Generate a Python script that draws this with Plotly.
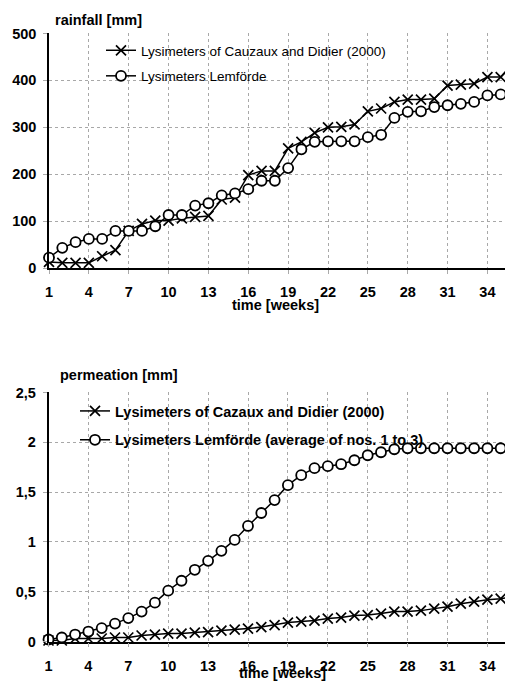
import plotly.graph_objects as go

weeks = list(range(1, 37))
x_tick_vals = [1, 4, 7, 10, 13, 16, 19, 22, 25, 28, 31, 34]

rain_cazaux = [13, 11, 11, 11, 25, 38, 79, 94, 101, 101, 106, 109, 111, 146, 150, 198,
               207, 207, 255, 269, 288, 300, 301, 306, 334, 340, 354, 359, 359, 361,
               389, 391, 393, 407, 407, 439]
rain_lemforde = [22, 43, 55, 62, 62, 79, 79, 79, 89, 113, 113, 133, 138, 155, 159, 168,
                 186, 186, 213, 253, 269, 270, 270, 270, 279, 284, 320, 333, 334, 343,
                 347, 350, 354, 368, 370, 387]

perm_cazaux = [0.01, 0.01, 0.03, 0.03, 0.03, 0.04, 0.04, 0.06, 0.07, 0.08, 0.08, 0.09,
               0.095, 0.11, 0.12, 0.13, 0.145, 0.165, 0.19, 0.20, 0.21, 0.23, 0.24, 0.26,
               0.265, 0.28, 0.30, 0.30, 0.31, 0.33, 0.35, 0.38, 0.40, 0.42, 0.43, 0.45]
perm_lemforde = [0.02, 0.04, 0.07, 0.10, 0.135, 0.18, 0.235, 0.30, 0.39, 0.51, 0.61, 0.72,
                 0.81, 0.91, 1.02, 1.16, 1.29, 1.42, 1.57, 1.67, 1.74, 1.76, 1.78, 1.82,
                 1.87, 1.90, 1.93, 1.94, 1.94, 1.94, 1.94, 1.94, 1.94, 1.94, 1.94, 1.94]

rain_tick_vals = [0, 100, 200, 300, 400, 500]
rain_tick_text = ["0", "100", "200", "300", "400", "500"]
perm_tick_vals = [0, 0.5, 1, 1.5, 2, 2.5]
perm_tick_text = ["0", "0,5", "1", "1,5", "2", "2,5"]

legend_top = ["Lysimeters of Cauzaux and Didier (2000)", "Lysimeters Lemförde"]
legend_bottom = ["Lysimeters of Cazaux and Didier (2000)",
                 "Lysimeters Lemförde (average of nos. 1 to 3)"]

# page body has an 8px margin; lay out in window pixels and convert
OFF = 8
W, H = 513 - OFF, 682 - OFF
FONT = "Liberation Sans, Arial, sans-serif"


def px_x(p):
    return (p - OFF) / W


def px_y(p):
    return (H - (p - OFF)) / H


x_marker = dict(symbol="x-thin", size=10, color="black", line=dict(color="black", width=1.7))
o_marker = dict(symbol="circle", size=10, color="white", line=dict(color="black", width=1.8))
line_style = dict(color="black", width=1.5)

fig = go.Figure()
fig.add_trace(go.Scatter(x=weeks, y=rain_cazaux, mode="lines+markers", name=legend_top[0],
                         marker=x_marker, line=line_style, xaxis="x", yaxis="y",
                         legend="legend", legendgroup="a", cliponaxis=False))
fig.add_trace(go.Scatter(x=weeks, y=rain_lemforde, mode="lines+markers", name=legend_top[1],
                         marker=o_marker, line=line_style, xaxis="x", yaxis="y",
                         legend="legend", legendgroup="b", cliponaxis=False))
fig.add_trace(go.Scatter(x=weeks, y=perm_cazaux, mode="lines+markers", name=legend_bottom[0],
                         marker=x_marker, line=line_style, xaxis="x2", yaxis="y2",
                         legend="legend2", legendgroup="c", cliponaxis=False))
fig.add_trace(go.Scatter(x=weeks, y=perm_lemforde, mode="lines+markers", name=legend_bottom[1],
                         marker=o_marker, line=line_style, xaxis="x2", yaxis="y2",
                         legend="legend2", legendgroup="d", cliponaxis=False))

tickfont = dict(family=FONT, size=14.5, color="black", weight="bold")
grid = dict(showgrid=True, gridcolor="#a8a8a8", griddash="dot", gridwidth=1)

xcommon = dict(range=[1, 35.85], tickmode="array", tickvals=x_tick_vals,
               ticks="outside", ticklen=4, tickcolor="#aaaaaa", tickfont=tickfont,
               showline=True, linecolor="black", linewidth=1.5, zeroline=False,
               ticklabelstandoff=6, automargin=False, **grid)
ycommon = dict(tickmode="array", ticks="outside", ticklen=4, tickcolor="#aaaaaa",
               tickfont=tickfont, showline=True, linecolor="black", linewidth=1.5,
               zeroline=False, ticklabelstandoff=4, automargin=False, **grid)

title_font = dict(family=FONT, size=14.5, color="black", weight="bold")

fig.update_layout(
    template="none",
    width=W, height=H,
    margin=dict(l=0, r=0, t=0, b=0, autoexpand=False),
    paper_bgcolor="white", plot_bgcolor="white",
    font=dict(family=FONT, color="black"),
    showlegend=True,
    xaxis=dict(domain=[px_x(49), px_x(512)], anchor="y", **xcommon),
    yaxis=dict(domain=[px_y(268), px_y(33)], anchor="x", range=[0, 501],
               tickvals=rain_tick_vals, ticktext=rain_tick_text, mirror=True, **ycommon),
    xaxis2=dict(domain=[px_x(48.5), px_x(512)], anchor="y2", **xcommon),
    yaxis2=dict(domain=[px_y(641.5), px_y(392)], anchor="x2", range=[0, 2.505],
                tickvals=perm_tick_vals, ticktext=perm_tick_text, **ycommon),
    legend=dict(x=px_x(101), y=px_y(35), xanchor="left", yanchor="top",
                bgcolor="rgba(0,0,0,0)", borderwidth=0, tracegroupgap=5,
                font=dict(family=FONT, size=13.5, color="black")),
    legend2=dict(x=px_x(75), y=px_y(395), xanchor="left", yanchor="top",
                 bgcolor="rgba(0,0,0,0)", borderwidth=0, tracegroupgap=7,
                 font=dict(family=FONT, size=14.5, color="black", weight="bold")),
    annotations=[
        dict(text="rainfall [mm]", xref="paper", yref="paper", x=px_x(53), y=px_y(20),
             xanchor="left", yanchor="middle", showarrow=False, font=title_font),
        dict(text="time [weeks]", xref="paper", yref="paper", x=px_x(275), y=px_y(305),
             xanchor="center", yanchor="middle", showarrow=False, font=title_font),
        dict(text="permeation [mm]", xref="paper", yref="paper", x=px_x(58), y=px_y(375),
             xanchor="left", yanchor="middle", showarrow=False, font=title_font),
        dict(text="time [weeks]", xref="paper", yref="paper", x=px_x(282), y=px_y(673),
             xanchor="center", yanchor="middle", showarrow=False, font=title_font),
    ],
)

fig.write_html("out.html")
